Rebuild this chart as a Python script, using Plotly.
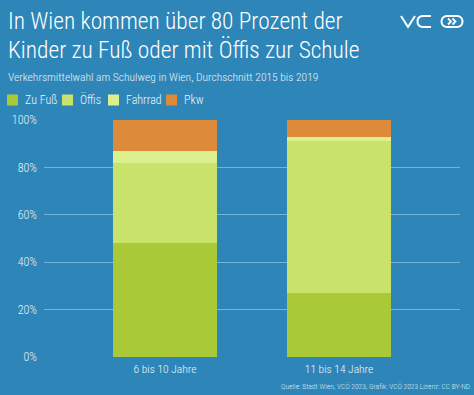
import plotly.graph_objects as go

categories = ["6 bis 10 Jahre", "11 bis 14 Jahre"]
series_names = ["Zu Fuß", "Öffis", "Fahrrad", "Pkw"]
zu_fuss = [48, 27]
oeffis = [34, 64]
fahrrad = [5, 2]
pkw = [13, 7]
y_ticks = [0, 20, 40, 60, 80, 100]
y_tick_labels = ["0%", "20%", "40%", "60%", "80%", "100%"]

colors = ["#a9c936", "#c9e36a", "#dcef8e", "#dd8a3b"]
BG = "#2e86b8"
FONT = "Roboto Condensed, Liberation Sans Narrow, sans-serif"

W, H = 474, 395
L, R, T, B = 44, 14, 120, 38
PW, PH = W - L - R, H - T - B


def px(x):
    return (x - L) / PW


def py(y):
    return (H - B - y) / PH


fig = go.Figure()
for name, vals, col in zip(series_names, [zu_fuss, oeffis, fahrrad, pkw], colors):
    fig.add_trace(go.Bar(
        x=list(range(len(categories))), y=vals, name=name,
        marker=dict(color=col, line=dict(width=0)), width=0.598,
        hoverinfo="skip", showlegend=False,
    ))

fig.update_layout(
    width=W, height=H,
    barmode="stack",
    paper_bgcolor=BG, plot_bgcolor=BG,
    margin=dict(l=L, r=R, t=T, b=B, autoexpand=False),
    font=dict(family=FONT, color="#e6f0f7", size=12, weight=300),
    showlegend=False,
    xaxis=dict(range=[-0.695, 1.695], tickvals=[0, 1], ticktext=categories,
               showgrid=False, zeroline=False, showline=False, ticks="",
               tickfont=dict(size=11.5, color="#f0f5f9", weight=300), ticklabelstandoff=3),
    yaxis=dict(range=[0, 100], tickvals=y_ticks, ticktext=y_tick_labels,
               showgrid=True, gridcolor="#74b4dc", gridwidth=1.2,
               zeroline=False, showline=False, ticks="",
               tickfont=dict(size=12, color="#e6f0f7", weight=300), ticklabelstandoff=6),
)

title_font = dict(family=FONT, size=23.4, color="#ffffff", weight=300)
fig.add_annotation(text="In Wien kommen über 80 Prozent der", xref="paper", yref="paper",
                   x=px(6), y=py(21), xanchor="left", yanchor="middle",
                   showarrow=False, font=title_font)
fig.add_annotation(text="Kinder zu Fuß oder mit Öffis zur Schule", xref="paper", yref="paper",
                   x=px(6), y=py(50), xanchor="left", yanchor="middle",
                   showarrow=False, font=title_font)
fig.add_annotation(text="Verkehrsmittelwahl am Schulweg in Wien, Durchschnitt 2015 bis 2019",
                   xref="paper", yref="paper", x=px(6), y=py(77), xanchor="left", yanchor="middle",
                   showarrow=False, font=dict(family=FONT, size=11.5, color="#e8f1f7", weight=300))
fig.add_annotation(text="Quelle: Stadt Wien, VCÖ 2023, Grafik: VCÖ 2023 Lizenz: CC BY-ND",
                   xref="paper", yref="paper", x=px(472), y=py(386),
                   xanchor="right", yanchor="middle", showarrow=False,
                   font=dict(family=FONT, size=7.5, color="#d8e8f3", weight=300))

# Legend (drawn from the series lists)
legend_x = [7, 62, 108, 166]
for name, col, lx in zip(series_names, colors, legend_x):
    fig.add_shape(type="rect", xref="paper", yref="paper",
                  x0=px(lx), x1=px(lx + 11), y0=py(94.5), y1=py(105.5),
                  fillcolor=col, line=dict(width=0))
    fig.add_annotation(text=name, xref="paper", yref="paper", x=px(lx + 16), y=py(100),
                       xanchor="left", yanchor="middle", showarrow=False,
                       font=dict(family=FONT, size=12, color="#eef4f8", weight=300))


# Logo: V, C and pill with chevrons
def P(x, y):
    return "{:.5f},{:.5f}".format(px(x), py(y))


logo_line = dict(color="#ffffff", width=2)
fig.add_shape(type="path", xref="paper", yref="paper",
              path="M {} L {} L {}".format(P(401, 16), P(408, 27), P(415, 16)), line=logo_line)
fig.add_shape(type="path", xref="paper", yref="paper",
              path="M {} L {} C {} {} {} C {} {} {} L {}".format(
                  P(431, 16), P(423, 16), P(419, 16), P(417.5, 18.5), P(417.5, 21.5),
                  P(417.5, 24.5), P(419, 27), P(423, 27), P(431, 27)), line=logo_line)
fig.add_shape(type="path", xref="paper", yref="paper",
              path="M {} L {} C {} {} {} C {} {} {} L {} C {} {} {} C {} {} {} Z".format(
                  P(447, 16), P(457, 16), P(460.5, 16), P(462.5, 18.5), P(462.5, 21.5),
                  P(462.5, 24.5), P(460.5, 27), P(457, 27), P(447, 27),
                  P(443.5, 27), P(441.5, 24.5), P(441.5, 21.5),
                  P(441.5, 18.5), P(443.5, 16), P(447, 16)), line=logo_line)
fig.add_shape(type="path", xref="paper", yref="paper",
              path="M {} L {} L {}".format(P(448, 18.5), P(451, 21.5), P(448, 24.5)),
              line=dict(color="#ffffff", width=1.8))
fig.add_shape(type="path", xref="paper", yref="paper",
              path="M {} L {} L {}".format(P(452.5, 18.5), P(455.5, 21.5), P(452.5, 24.5)),
              line=dict(color="#ffffff", width=1.8))

fig.write_html(
    "out.html",
    config={"displayModeBar": False, "staticPlot": True},
    post_script="document.body.style.margin='0';document.body.style.padding='0';"
                "document.body.style.overflow='hidden';",
)
